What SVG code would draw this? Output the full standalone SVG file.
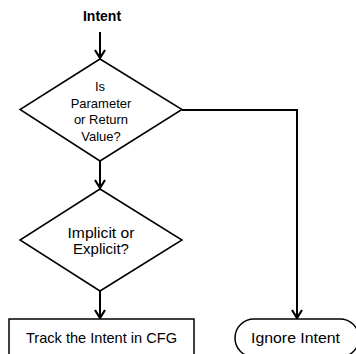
<svg xmlns="http://www.w3.org/2000/svg" width="356" height="354" viewBox="0 0 356 354">
<style>
.shape{fill:#fff;stroke:#000;stroke-width:1.5}
.conn{fill:none;stroke:#000;stroke-width:2}
text{font-family:"Liberation Sans",Arial,sans-serif;fill:#000;text-anchor:middle;dominant-baseline:central}
</style>
<defs>
<marker id="arr" markerWidth="12" markerHeight="12" viewBox="0 0 12 12" refX="10" refY="6" orient="auto" markerUnits="userSpaceOnUse">
<path d="M2,1 L10,6 L2,11" fill="none" stroke="#000" stroke-width="2.2"/>
</marker>
</defs>
<rect width="356" height="354" fill="#fff"/>
<g id="connectors">
<line class="conn" x1="100" y1="32" x2="100" y2="58" marker-end="url(#arr)"/>
<line class="conn" x1="100" y1="161" x2="100" y2="188" marker-end="url(#arr)"/>
<line class="conn" x1="100" y1="291" x2="100" y2="318" marker-end="url(#arr)"/>
<polyline class="conn" points="182,110 297,110 297,318" marker-end="url(#arr)"/>
</g>
<g id="start">
<text x="102" y="16" font-weight="bold" font-size="14">Intent</text>
</g>
<g id="decision1">
<polygon class="shape" points="100,59 182,109.5 100,161 20,109.5"/>
<text x="100" y="86" font-size="13">Is</text>
<text x="101" y="103" font-size="13">Parameter</text>
<text x="101" y="119.5" font-size="13">or Return</text>
<text x="101" y="136" font-size="13">Value?</text>
</g>
<g id="decision2">
<polygon class="shape" points="100,189 182,240 100,291 20,240"/>
<text x="101" y="232" font-size="15" textLength="67" lengthAdjust="spacingAndGlyphs">Implicit or</text>
<text x="101" y="248" font-size="15">Explicit?</text>
</g>
<g id="track">
<rect class="shape" x="9" y="319" width="185" height="42"/>
<text x="101.5" y="338" font-size="14.5" textLength="151" lengthAdjust="spacingAndGlyphs">Track the Intent in CFG</text>
</g>
<g id="ignore">
<rect class="shape" x="235" y="319" width="124" height="38" rx="19" ry="19"/>
<text x="295.5" y="338" font-size="14.5" textLength="89" lengthAdjust="spacingAndGlyphs">Ignore Intent</text>
</g>
</svg>
